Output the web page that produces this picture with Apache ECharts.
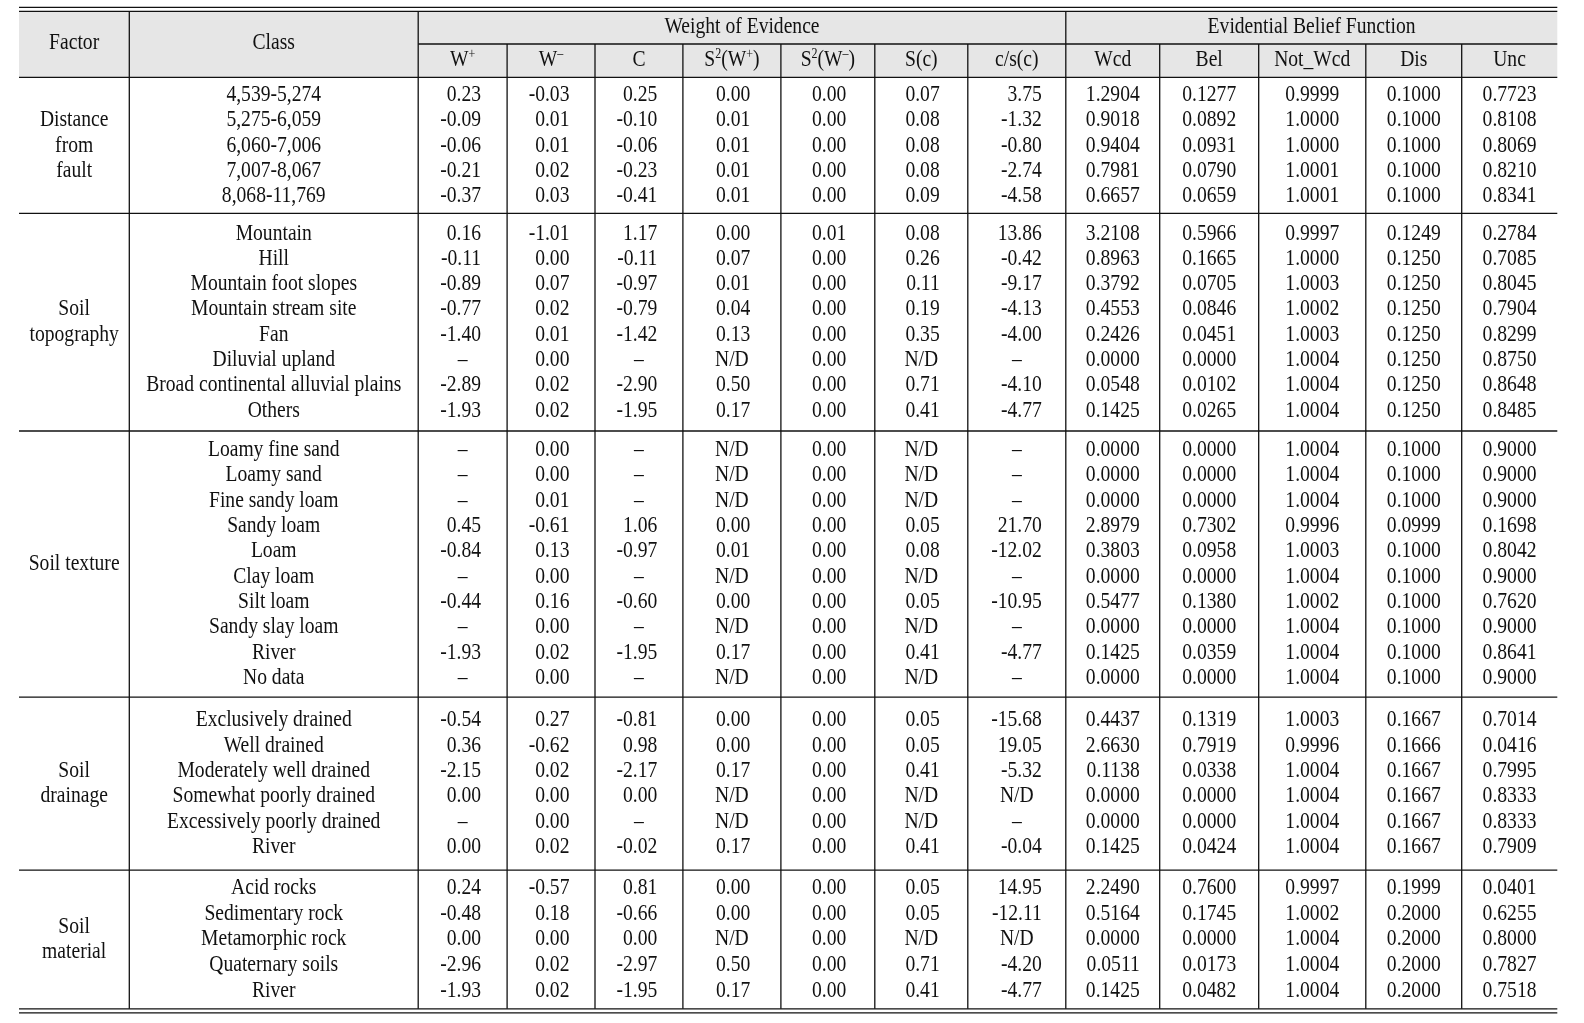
<!DOCTYPE html>
<html><head><meta charset="utf-8">
<script src="https://cdn.jsdelivr.net/npm/echarts@6/dist/echarts.min.js"></script>
<style>html,body{margin:0;padding:0;background:#fff}#c{width:1584px;height:1023px}</style>
</head><body><div id="c"></div>
<script>
// ---------------- DATA ----------------
const factorLabels = ['Distance\nfrom\nfault', 'Soil\ntopography', 'Soil texture', 'Soil\ndrainage', 'Soil\nmaterial'];
const distanceClasses = ['4,539-5,274', '5,275-6,059', '6,060-7,006', '7,007-8,067', '8,068-11,769'];
const topographyClasses = ['Mountain', 'Hill', 'Mountain foot slopes', 'Mountain stream site', 'Fan', 'Diluvial upland', 'Broad continental alluvial plains', 'Others'];
const textureClasses = ['Loamy fine sand', 'Loamy sand', 'Fine sandy loam', 'Sandy loam', 'Loam', 'Clay loam', 'Silt loam', 'Sandy slay loam', 'River', 'No data'];
const drainageClasses = ['Exclusively drained', 'Well drained', 'Moderately well drained', 'Somewhat poorly drained', 'Excessively poorly drained', 'River'];
const materialClasses = ['Acid rocks', 'Sedimentary rock', 'Metamorphic rock', 'Quaternary soils', 'River'];
const sectionClasses = [distanceClasses, topographyClasses, textureClasses, drainageClasses, materialClasses];

const groupHeaders = ['Weight of Evidence', 'Evidential Belief Function'];
const columnHeaders = ['W{p|+}', 'W{p|\u2013}', 'C', 'S{p|2}(W{p|+})', 'S{p|2}(W{p|\u2013})', 'S(c)', 'c/s(c)', 'Wcd', 'Bel', 'Not_Wcd', 'Dis', 'Unc'];

const wPlus = ['0.23','-0.09','-0.06','-0.21','-0.37', '0.16','-0.11','-0.89','-0.77','-1.40','\u2013','-2.89','-1.93',
  '\u2013','\u2013','\u2013','0.45','-0.84','\u2013','-0.44','\u2013','-1.93','\u2013',
  '-0.54','0.36','-2.15','0.00','\u2013','0.00', '0.24','-0.48','0.00','-2.96','-1.93'];
const wMinus = ['-0.03','0.01','0.01','0.02','0.03', '-1.01','0.00','0.07','0.02','0.01','0.00','0.02','0.02',
  '0.00','0.00','0.01','-0.61','0.13','0.00','0.16','0.00','0.02','0.00',
  '0.27','-0.62','0.02','0.00','0.00','0.02', '-0.57','0.18','0.00','0.02','0.02'];
const contrast = ['0.25','-0.10','-0.06','-0.23','-0.41', '1.17','-0.11','-0.97','-0.79','-1.42','\u2013','-2.90','-1.95',
  '\u2013','\u2013','\u2013','1.06','-0.97','\u2013','-0.60','\u2013','-1.95','\u2013',
  '-0.81','0.98','-2.17','0.00','\u2013','-0.02', '0.81','-0.66','0.00','-2.97','-1.95'];
const s2wPlus = ['0.00','0.01','0.01','0.01','0.01', '0.00','0.07','0.01','0.04','0.13','N/D','0.50','0.17',
  'N/D','N/D','N/D','0.00','0.01','N/D','0.00','N/D','0.17','N/D',
  '0.00','0.00','0.17','N/D','N/D','0.17', '0.00','0.00','N/D','0.50','0.17'];
const s2wMinus = ['0.00','0.00','0.00','0.00','0.00', '0.01','0.00','0.00','0.00','0.00','0.00','0.00','0.00',
  '0.00','0.00','0.00','0.00','0.00','0.00','0.00','0.00','0.00','0.00',
  '0.00','0.00','0.00','0.00','0.00','0.00', '0.00','0.00','0.00','0.00','0.00'];
const sC = ['0.07','0.08','0.08','0.08','0.09', '0.08','0.26','0.11','0.19','0.35','N/D','0.71','0.41',
  'N/D','N/D','N/D','0.05','0.08','N/D','0.05','N/D','0.41','N/D',
  '0.05','0.05','0.41','N/D','N/D','0.41', '0.05','0.05','N/D','0.71','0.41'];
const cOverSc = ['3.75','-1.32','-0.80','-2.74','-4.58', '13.86','-0.42','-9.17','-4.13','-4.00','\u2013','-4.10','-4.77',
  '\u2013','\u2013','\u2013','21.70','-12.02','\u2013','-10.95','\u2013','-4.77','\u2013',
  '-15.68','19.05','-5.32','N/D','\u2013','-0.04', '14.95','-12.11','N/D','-4.20','-4.77'];
const wcd = ['1.2904','0.9018','0.9404','0.7981','0.6657', '3.2108','0.8963','0.3792','0.4553','0.2426','0.0000','0.0548','0.1425',
  '0.0000','0.0000','0.0000','2.8979','0.3803','0.0000','0.5477','0.0000','0.1425','0.0000',
  '0.4437','2.6630','0.1138','0.0000','0.0000','0.1425', '2.2490','0.5164','0.0000','0.0511','0.1425'];
const bel = ['0.1277','0.0892','0.0931','0.0790','0.0659', '0.5966','0.1665','0.0705','0.0846','0.0451','0.0000','0.0102','0.0265',
  '0.0000','0.0000','0.0000','0.7302','0.0958','0.0000','0.1380','0.0000','0.0359','0.0000',
  '0.1319','0.7919','0.0338','0.0000','0.0000','0.0424', '0.7600','0.1745','0.0000','0.0173','0.0482'];
const notWcd = ['0.9999','1.0000','1.0000','1.0001','1.0001', '0.9997','1.0000','1.0003','1.0002','1.0003','1.0004','1.0004','1.0004',
  '1.0004','1.0004','1.0004','0.9996','1.0003','1.0004','1.0002','1.0004','1.0004','1.0004',
  '1.0003','0.9996','1.0004','1.0004','1.0004','1.0004', '0.9997','1.0002','1.0004','1.0004','1.0004'];
const dis = ['0.1000','0.1000','0.1000','0.1000','0.1000', '0.1249','0.1250','0.1250','0.1250','0.1250','0.1250','0.1250','0.1250',
  '0.1000','0.1000','0.1000','0.0999','0.1000','0.1000','0.1000','0.1000','0.1000','0.1000',
  '0.1667','0.1666','0.1667','0.1667','0.1667','0.1667', '0.1999','0.2000','0.2000','0.2000','0.2000'];
const unc = ['0.7723','0.8108','0.8069','0.8210','0.8341', '0.2784','0.7085','0.8045','0.7904','0.8299','0.8750','0.8648','0.8485',
  '0.9000','0.9000','0.9000','0.1698','0.8042','0.9000','0.7620','0.9000','0.8641','0.9000',
  '0.7014','0.0416','0.7995','0.8333','0.8333','0.7909', '0.0401','0.6255','0.8000','0.7827','0.7518'];
const valueColumns = [wPlus, wMinus, contrast, s2wPlus, s2wMinus, sC, cOverSc, wcd, bel, notWcd, dis, unc];

// ---------------- LAYOUT (sizes / styles only) ----------------
const COL_EDGES = [0, 110.3, 399.2, 488.1, 576, 663.9, 761.9, 855.8, 948.8, 1046.8, 1140.7, 1239.7, 1346.8, 1442.7, 1538.3];
const RIGHT_OFFSET = [18.4, 18.4, 18.4, 18.4, 18.4, 18.4, 25, 27, 27, 27, 27, 27];
const ROW_PX = 25.3;
const TOP_LINE1 = -2.767, TOP_LINE2 = -2.609, SUB_LINE = -1.316, HEAD_BOTTOM = 0;
const HEAD_TEXT_SHIFT = -0.06, SUBHEAD_TEXT_SHIFT = -0.02, BODY_TEXT_SHIFT = 0.08;
const PAD_TOP = [0.62, 0.72, 0.68, 0.84, 0.62], PAD_BOTTOM = [0.76, 0.88, 0.84, 1.0, 0.78], BOTTOM_GAP = 0.16;
const ROW_STEP = [1, 1, 1, 1, 1.02];
const FONT = '"Liberation Serif", "Times New Roman", serif';
const FONT_SIZE = 19.6, SCALE_Y = 1.15, INK = '#111111', LINE = '#111111';

// row positions
const rowY = [], sectionLines = [], factorY = [];
let yCur = HEAD_BOTTOM;
sectionClasses.forEach((cls, s) => {
  if (s > 0) sectionLines.push(yCur);
  const first = yCur + PAD_TOP[s];
  cls.forEach((c, i) => rowY.push(first + i * ROW_STEP[s] + BODY_TEXT_SHIFT));
  factorY.push(first + (cls.length - 1) * ROW_STEP[s] / 2 + BODY_TEXT_SHIFT);
  yCur = first + (cls.length - 1) * ROW_STEP[s] + PAD_BOTTOM[s];
});
const BOTTOM_LINE1 = yCur, BOTTOM_LINE2 = yCur + BOTTOM_GAP;
const Y_MIN = TOP_LINE1, Y_MAX = BOTTOM_LINE2 + 0.05;
const X_MAX = COL_EDGES[COL_EDGES.length - 1];
const colCenter = i => (COL_EDGES[i] + COL_EDGES[i + 1]) / 2;

// cells
const cells = [];
const hMid = (TOP_LINE2 + HEAD_BOTTOM) / 2 + HEAD_TEXT_SHIFT;
const gMid = (TOP_LINE2 + SUB_LINE) / 2 + SUBHEAD_TEXT_SHIFT;
const sMid = (SUB_LINE + HEAD_BOTTOM) / 2 + SUBHEAD_TEXT_SHIFT;
cells.push({x: colCenter(0), y: hMid, text: 'Factor', align: 'center'});
cells.push({x: colCenter(1), y: hMid, text: 'Class', align: 'center'});
cells.push({x: (COL_EDGES[2] + COL_EDGES[9]) / 2, y: gMid, text: groupHeaders[0], align: 'center'});
cells.push({x: (COL_EDGES[9] + COL_EDGES[14]) / 2, y: gMid, text: groupHeaders[1], align: 'center'});
columnHeaders.forEach((h, j) => cells.push({x: colCenter(j + 2), y: sMid, text: h, align: 'center'}));
factorLabels.forEach((f, s) => cells.push({x: colCenter(0), y: factorY[s], text: f, align: 'center'}));
let r = 0;
sectionClasses.forEach(cls => cls.forEach(c => { cells.push({x: colCenter(1), y: rowY[r], text: c, align: 'center'}); r++; }));
valueColumns.forEach((col, j) => {
  col.forEach((v, i) => {
    const numeric = /\d/.test(v);
    cells.push(numeric
      ? {x: colCenter(j + 2) + RIGHT_OFFSET[j], y: rowY[i], text: v, align: 'right'}
      : {x: colCenter(j + 2), y: rowY[i], text: v, align: 'center'});
  });
});

// rules
const rules = [];
[TOP_LINE1, TOP_LINE2, HEAD_BOTTOM, BOTTOM_LINE1, BOTTOM_LINE2].concat(sectionLines)
  .forEach(y => rules.push([0, y, X_MAX, y]));
rules.push([COL_EDGES[2], SUB_LINE, X_MAX, SUB_LINE]);
[1, 2, 9].forEach(i => rules.push([COL_EDGES[i], TOP_LINE2, COL_EDGES[i], BOTTOM_LINE1]));
[3, 4, 5, 6, 7, 8, 10, 11, 12, 13].forEach(i => rules.push([COL_EDGES[i], SUB_LINE, COL_EDGES[i], BOTTOM_LINE1]));

const chart = echarts.init(document.getElementById('c'), null, {renderer: 'canvas'});
const richSup = {p: {fontFamily: FONT, fontSize: 12, fill: INK, verticalAlign: 'top', lineHeight: 14}};
chart.setOption({
  animation: false,
  backgroundColor: '#ffffff',
  grid: {left: 19, top: 7.3, width: X_MAX, height: (Y_MAX - Y_MIN) * ROW_PX, containLabel: false},
  xAxis: {type: 'value', min: 0, max: X_MAX, show: false},
  yAxis: {type: 'value', inverse: true, min: Y_MIN, max: Y_MAX, show: false},
  series: [
    {
      type: 'custom', name: 'headerBg', clip: false, z: 1,
      data: [[0, TOP_LINE2, X_MAX, HEAD_BOTTOM]],
      encode: {x: [0, 2], y: [1, 3]},
      renderItem: (params, api) => {
        const a = api.coord([api.value(0), api.value(1)]);
        const b = api.coord([api.value(2), api.value(3)]);
        return {type: 'rect', shape: {x: a[0], y: a[1], width: b[0] - a[0], height: b[1] - a[1]}, style: {fill: '#e6e6e6'}};
      }
    },
    {
      type: 'custom', name: 'rules', clip: false, z: 3,
      data: rules,
      encode: {x: [0, 2], y: [1, 3]},
      renderItem: (params, api) => {
        const a = api.coord([api.value(0), api.value(1)]);
        const b = api.coord([api.value(2), api.value(3)]);
        return {type: 'line', shape: {x1: a[0], y1: a[1], x2: b[0], y2: b[1]}, style: {stroke: LINE, lineWidth: 1.3}};
      }
    },
    {
      type: 'custom', name: 'cells', clip: false, z: 4,
      data: cells.map(c => [c.x, c.y]),
      encode: {x: 0, y: 1},
      renderItem: (params, api) => {
        const c = cells[params.dataIndex];
        const p = api.coord([api.value(0), api.value(1)]);
        const unitPx = api.size([0, 1])[1];
        return {
          type: 'text', x: p[0], y: p[1], scaleY: SCALE_Y,
          style: {
            x: 0, y: 0, text: c.text, fill: INK,
            fontFamily: FONT, fontSize: FONT_SIZE,
            align: c.align, verticalAlign: 'middle',
            lineHeight: unitPx / SCALE_Y,
            rich: richSup
          }
        };
      }
    }
  ]
});
</script></body></html>
